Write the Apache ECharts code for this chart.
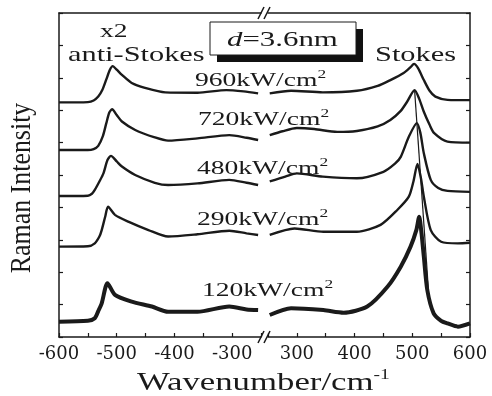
<!DOCTYPE html>
<html>
<head>
<meta charset="utf-8">
<script src="https://cdn.jsdelivr.net/npm/echarts@6/dist/echarts.min.js"></script>
<style>
  html, body { margin: 0; padding: 0; background: #fff; }
  #chart { width: 492px; height: 396px; }
</style>
</head>
<body>
<div id="chart"></div>
<script>
// Raman spectra: [wavenumber (cm-1), offset intensity]
const antiStokes960 = [[-600, 7.24], [-550, 7.25], [-540, 7.3], [-532, 7.42], [-525, 7.62], [-518, 7.95], [-512, 8.24], [-507, 8.36], [-500, 8.25], [-491, 8.09], [-474, 7.84], [-451, 7.69], [-416, 7.55], [-360, 7.54], [-310, 7.62], [-280, 7.58], [-255, 7.52]];
const stokes960 = [[253, 7.52], [290, 7.6], [345, 7.55], [404, 7.6], [440, 7.75], [462, 7.93], [485, 8.15], [497, 8.33], [503, 8.43], [510, 8.3], [520, 7.93], [530, 7.6], [540, 7.42], [561, 7.32], [600, 7.31]];

const antiStokes720 = [[-600, 5.77], [-550, 5.77], [-540, 5.8], [-532, 5.9], [-524, 6.2], [-518, 6.6], [-513, 6.92], [-508, 7.03], [-500, 6.85], [-491, 6.65], [-468, 6.39], [-434, 6.16], [-411, 6.06], [-360, 6.13], [-305, 6.23], [-275, 6.15], [-255, 6.08]];
const stokes720 = [[253, 6.23], [275, 6.35], [300, 6.45], [330, 6.42], [370, 6.33], [404, 6.36], [440, 6.5], [462, 6.7], [480, 6.98], [491, 7.26], [504, 7.62], [512, 7.35], [520, 6.95], [530, 6.55], [538, 6.29], [561, 6.03], [600, 6.0]];

const antiStokes480 = [[-600, 4.35], [-550, 4.36], [-543, 4.42], [-538, 4.54], [-530, 4.8], [-523, 5.05], [-516, 5.46], [-510, 5.59], [-500, 5.42], [-491, 5.26], [-468, 5.0], [-434, 4.76], [-411, 4.69], [-360, 4.74], [-305, 4.85], [-275, 4.76], [-255, 4.69]];
const stokes480 = [[253, 4.8], [280, 4.95], [300, 5.05], [345, 4.95], [404, 4.9], [450, 5.1], [470, 5.35], [480, 5.56], [494, 6.18], [508, 6.6], [514, 6.3], [520, 5.67], [532, 4.85], [545, 4.6], [561, 4.51], [600, 4.48]];

const antiStokes290 = [[-600, 2.79], [-550, 2.8], [-538, 2.89], [-530, 3.1], [-526, 3.3], [-520, 3.71], [-515, 4.02], [-503, 3.77], [-480, 3.56], [-445, 3.3], [-411, 3.1], [-360, 3.17], [-305, 3.28], [-275, 3.2], [-255, 3.15]];
const stokes290 = [[253, 3.15], [296, 3.35], [346, 3.25], [404, 3.25], [445, 3.46], [474, 3.92], [494, 4.33], [502, 4.8], [509, 5.34], [515, 4.9], [520, 4.33], [532, 3.3], [550, 2.94], [579, 2.89], [600, 2.91]];

const antiStokes120 = [[-600, 0.47], [-550, 0.5], [-538, 0.58], [-532, 0.8], [-526, 1.04], [-516, 1.66], [-503, 1.3], [-474, 1.09], [-439, 0.94], [-411, 0.78], [-360, 0.78], [-305, 0.94], [-275, 0.85], [-255, 0.83]];
const stokes120 = [[253, 0.68], [290, 0.89], [346, 0.83], [381, 0.75], [422, 0.94], [457, 1.55], [480, 2.17], [497, 2.79], [507, 3.3], [512, 3.71], [516, 3.2], [520, 2.48], [526, 1.45], [537, 0.73], [550, 0.5], [561, 0.42], [579, 0.32], [600, 0.42]];

// thin guide line through the Stokes peaks
const peakGuide = [[504, 7.62], [528, 1.45]];

const powers = ['960', '720', '480', '290', '120'];
const leftRange = [-600, -250];
const rightRange = [250, 600];
const yRange = [0, 10];

const chart = echarts.init(document.getElementById('chart'), null, { renderer: 'canvas' });

const serif = '"Liberation Serif", "Times New Roman", serif';
const ink = '#1a1a1a';

// text helper (the figure is stretched horizontally, hence scaleX)
function label(x, y, text, size, sx, extra) {
  return {
    type: 'text', x: x, y: y, scaleX: sx, z: 10, silent: true,
    style: Object.assign({
      text: text, fontFamily: serif, fontSize: size, fill: ink,
      align: 'left', verticalAlign: 'middle'
    }, extra || {})
  };
}

const supStyle = { sup: { fontFamily: serif, fontSize: 12, fill: ink, verticalAlign: 'top', lineHeight: 12 } };

const xAxisBase = {
  type: 'value',
  interval: 50,
  axisLine: { lineStyle: { color: ink, width: 1.5 } },
  axisTick: { inside: true, length: 4, lineStyle: { color: ink, width: 1.2 } },
  axisLabel: {
    color: ink, fontFamily: '"DejaVu Serif", serif', fontSize: 18, margin: 8,
    formatter: v => (v % 100 === 0 ? String(v) : '')
  },
  splitLine: { show: false }
};

const topAxis = {
  type: 'value', position: 'top',
  axisLine: { lineStyle: { color: ink, width: 1.5 } },
  axisTick: { show: false }, axisLabel: { show: false }, splitLine: { show: false }
};

const yAxisBase = {
  type: 'value', min: yRange[0], max: yRange[1], interval: 1,
  axisLine: { show: true, lineStyle: { color: ink, width: 1.5 } },
  axisTick: { show: true, inside: true, length: 4, lineStyle: { color: ink, width: 1.2 } },
  axisLabel: { show: false },
  splitLine: { show: false }
};

function curve(data, side, width) {
  return {
    type: 'line', data: data, showSymbol: false, smooth: 0.25,
    xAxisIndex: side, yAxisIndex: side,
    lineStyle: { color: ink, width: width || 2.4 },
    silent: true, animation: false
  };
}

const labelPos = [[195, 81], [198, 120], [197, 169], [197, 220], [202, 291]];

const option = {
  animation: false,
  backgroundColor: '#fff',
  grid: [
    { left: 59, top: 13, width: 202, height: 324 },
    { left: 268, top: 13, width: 202, height: 324 }
  ],
  xAxis: [
    Object.assign({}, xAxisBase, { gridIndex: 0, min: leftRange[0], max: leftRange[1] }),
    Object.assign({}, xAxisBase, { gridIndex: 1, min: rightRange[0], max: rightRange[1] }),
    Object.assign({}, topAxis, { gridIndex: 0, min: leftRange[0], max: leftRange[1] }),
    Object.assign({}, topAxis, { gridIndex: 1, min: rightRange[0], max: rightRange[1] })
  ],
  yAxis: [
    Object.assign({}, yAxisBase, { gridIndex: 0, position: 'left' }),
    Object.assign({}, yAxisBase, { gridIndex: 1, position: 'right' })
  ],
  series: [
    curve(antiStokes960, 0), curve(stokes960, 1),
    curve(antiStokes720, 0), curve(stokes720, 1),
    curve(antiStokes480, 0), curve(stokes480, 1),
    curve(antiStokes290, 0), curve(stokes290, 1),
    curve(antiStokes120, 0, 4), curve(stokes120, 1, 4),
    curve(peakGuide, 1, 1.2)
  ],
  graphic: [
    // d=3.6nm box with its drop shadow
    { type: 'rect', z: 5, shape: { x: 217, y: 29, width: 146, height: 33 }, style: { fill: '#111' } },
    { type: 'rect', z: 6, shape: { x: 210, y: 22, width: 146, height: 33 }, style: { fill: '#fff', stroke: ink, lineWidth: 1 } },
    label(227, 40, '{it|d}=3.6nm', 21, 1.47, {
      rich: { it: { fontFamily: serif, fontSize: 21, fontStyle: 'italic', fill: ink } }
    }),
    label(100, 32, 'x2', 19, 1.45),
    label(68, 55, 'anti-Stokes', 22, 1.38),
    label(375, 55, 'Stokes', 22, 1.38),
    // axis break marks
    { type: 'line', z: 10, shape: { x1: 258, y1: 19, x2: 264, y2: 7 }, style: { stroke: ink, lineWidth: 1.5 } },
    { type: 'line', z: 10, shape: { x1: 264, y1: 19, x2: 270, y2: 7 }, style: { stroke: ink, lineWidth: 1.5 } },
    { type: 'line', z: 10, shape: { x1: 258, y1: 343, x2: 264, y2: 331 }, style: { stroke: ink, lineWidth: 1.5 } },
    { type: 'line', z: 10, shape: { x1: 264, y1: 343, x2: 270, y2: 331 }, style: { stroke: ink, lineWidth: 1.5 } },
    // axis titles
    label(137, 383, 'Wavenumber/cm{sup|-1}', 25, 1.39, {
      lineHeight: 30,
      rich: { sup: { fontFamily: serif, fontSize: 14, fill: ink, verticalAlign: 'top', lineHeight: 14 } }
    }),
    {
      type: 'text', x: 22, y: 188, rotation: Math.PI / 2, scaleX: 1.08, scaleY: 1.25, z: 10, silent: true,
      style: { text: 'Raman Intensity', fontFamily: serif, fontSize: 24, fill: ink, align: 'center', verticalAlign: 'middle' }
    }
  ].concat(powers.map((p, i) => label(labelPos[i][0], labelPos[i][1], p + 'kW/cm{sup|2}', 19, 1.45, {
    lineHeight: 24, rich: supStyle
  })))
};

chart.setOption(option);
</script>
</body>
</html>
